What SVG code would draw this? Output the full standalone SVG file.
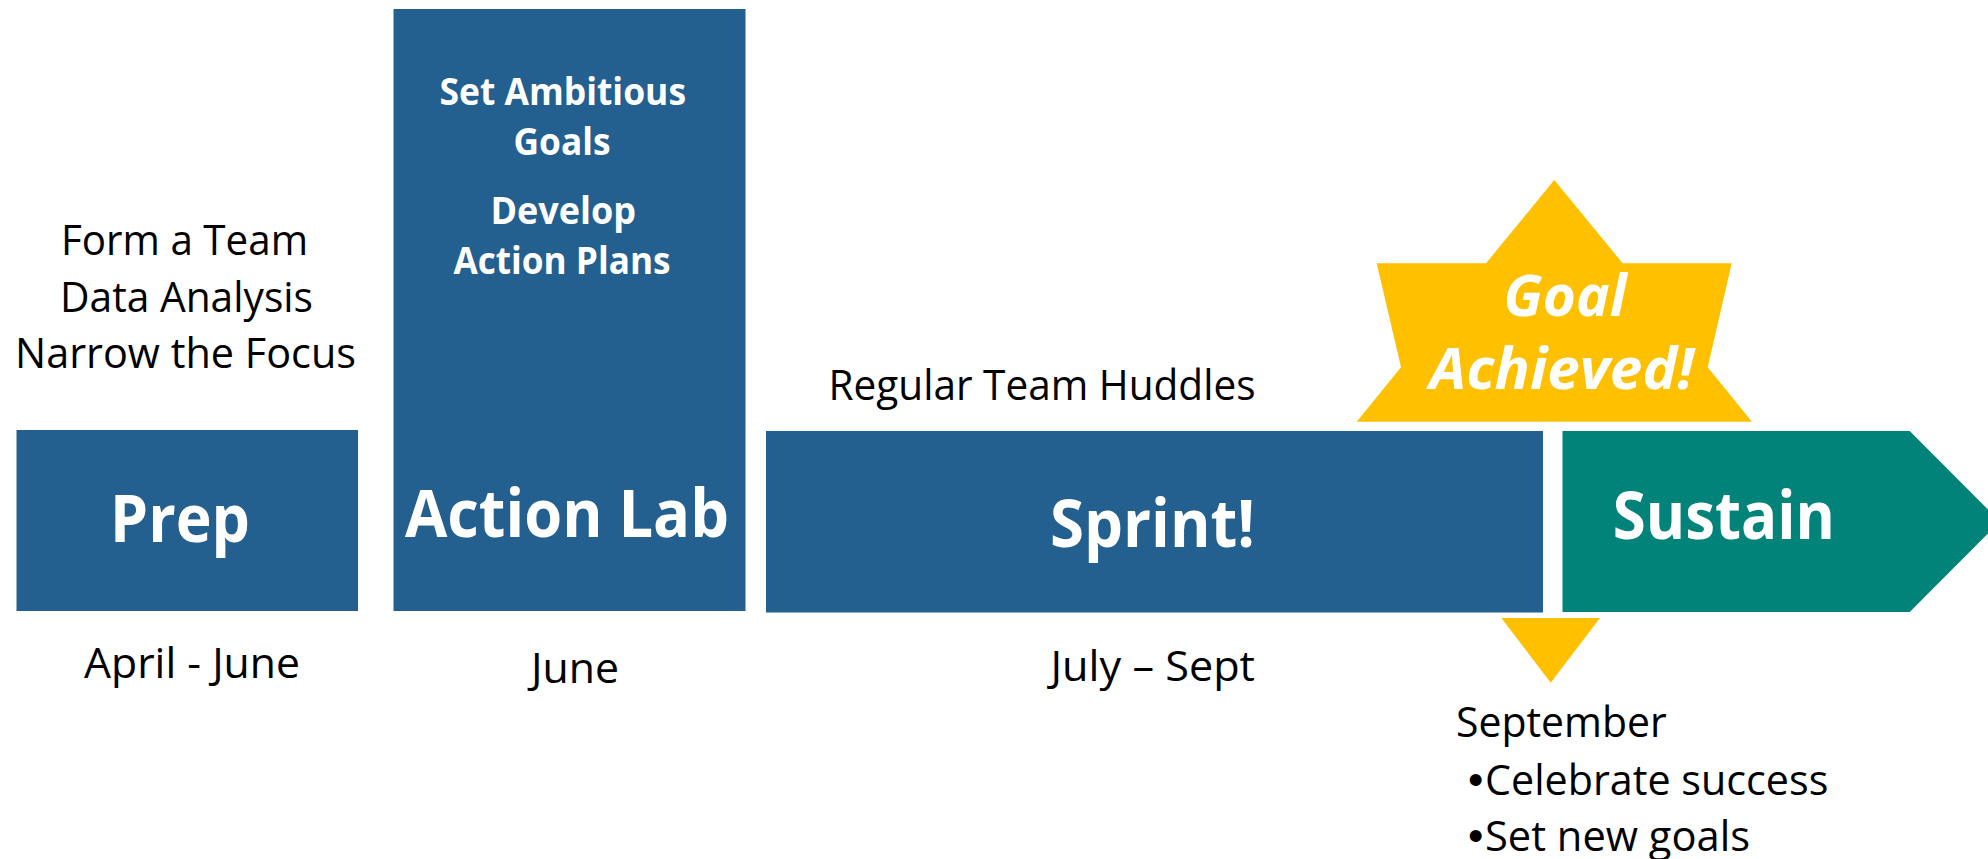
<svg xmlns="http://www.w3.org/2000/svg" width="1988" height="859" viewBox="0 0 1988 859">
  <style>
    .blue { fill: #24608F; }
    .teal { fill: #01837A; }
    .gold { fill: #FFC000; }
    .note { font-family: "Open Sans", "Noto Sans", "Liberation Sans", sans-serif; font-size: 42.5px; fill: #000000; }
    .dot { font-family: "Liberation Sans", "Open Sans", sans-serif; font-size: 44px; fill: #000000; }
    .big { font-family: "Open Sans", "Noto Sans", "Liberation Sans", sans-serif; font-size: 67px; font-weight: bold; fill: #FFFFFF; }
    .sub { font-family: "Open Sans", "Noto Sans", "Liberation Sans", sans-serif; font-size: 38px; font-weight: bold; fill: #FFFFFF; }
    .cheer { font-family: "Open Sans", "Noto Sans", "Liberation Sans", sans-serif; font-size: 58px; font-weight: bold; font-style: italic; fill: #FFFFFF; }
  </style>
  <rect width="1988" height="859" fill="#FFFFFF"/>

  <!-- Phase 1: preparation -->
  <g id="prep">
    <text class="note" x="61" y="255" textLength="247" lengthAdjust="spacingAndGlyphs">Form a Team</text>
    <text class="note" x="60" y="312" textLength="253" lengthAdjust="spacingAndGlyphs">Data Analysis</text>
    <text class="note" x="15" y="368" textLength="341" lengthAdjust="spacingAndGlyphs">Narrow the Focus</text>
    <rect class="blue" x="16.5" y="430" width="341.5" height="181"/>
    <text class="big" x="110" y="542" textLength="140" lengthAdjust="spacingAndGlyphs">Prep</text>
    <text class="note" x="84" y="678" textLength="216" lengthAdjust="spacingAndGlyphs">April - June</text>
  </g>

  <!-- Phase 2: action lab -->
  <g id="action-lab">
    <rect class="blue" x="393.5" y="9" width="352" height="602"/>
    <text class="sub" x="439.5" y="105" textLength="246.5" lengthAdjust="spacingAndGlyphs">Set Ambitious</text>
    <text class="sub" x="513.5" y="155" textLength="97" lengthAdjust="spacingAndGlyphs">Goals</text>
    <text class="sub" x="490.5" y="223.5" textLength="145.5" lengthAdjust="spacingAndGlyphs">Develop</text>
    <text class="sub" x="453.5" y="273.5" textLength="217" lengthAdjust="spacingAndGlyphs">Action Plans</text>
    <text class="big" x="405" y="537" textLength="324" lengthAdjust="spacingAndGlyphs">Action Lab</text>
    <text class="note" x="531" y="683" textLength="88" lengthAdjust="spacingAndGlyphs">June</text>
  </g>

  <!-- Goal star, drawn behind the timeline bars -->
  <g id="goal-achieved">
    <polygon class="gold" points="1554.3,180 1622.7,263.3 1731.7,263.3 1707.7,367.3 1752,421.7 1356.7,421.7 1401,367.3 1376.7,263.3 1486,263.3"/>
    <text class="cheer" x="1503.5" y="316" textLength="123" lengthAdjust="spacingAndGlyphs">Goal</text>
    <text class="cheer" x="1429.5" y="388.5" textLength="264.5" lengthAdjust="spacingAndGlyphs">Achieved!</text>
  </g>

  <!-- Phase 3: sprint -->
  <g id="sprint">
    <text class="note" x="828.5" y="399.5" textLength="427" lengthAdjust="spacingAndGlyphs">Regular Team Huddles</text>
    <rect class="blue" x="766" y="431" width="777" height="181.5"/>
    <text class="big" x="1050" y="546.7" textLength="205" lengthAdjust="spacingAndGlyphs">Sprint!</text>
    <text class="note" x="1050.5" y="680.7" textLength="204.5" lengthAdjust="spacingAndGlyphs">July – Sept</text>
  </g>

  <!-- Phase 4: sustain arrow -->
  <g id="sustain">
    <polygon class="teal" points="1562.5,431 1909.7,431 2000,521.5 1909.7,612 1562.5,612"/>
    <text class="big" x="1612.7" y="539.3" textLength="222.3" lengthAdjust="spacingAndGlyphs">Sustain</text>
  </g>

  <!-- September milestone marker and follow-up list -->
  <g id="september">
    <polygon class="gold" points="1501.3,618 1600,618 1550.7,682.7"/>
    <text class="note" x="1456" y="737.3" textLength="210.7" lengthAdjust="spacingAndGlyphs">September</text>
    <text class="dot" x="1468" y="795">•</text>
    <text class="note" x="1485" y="795" textLength="343.3" lengthAdjust="spacingAndGlyphs">Celebrate success</text>
    <text class="dot" x="1468" y="851">•</text>
    <text class="note" x="1485" y="851" textLength="265" lengthAdjust="spacingAndGlyphs">Set new goals</text>
  </g>
</svg>
